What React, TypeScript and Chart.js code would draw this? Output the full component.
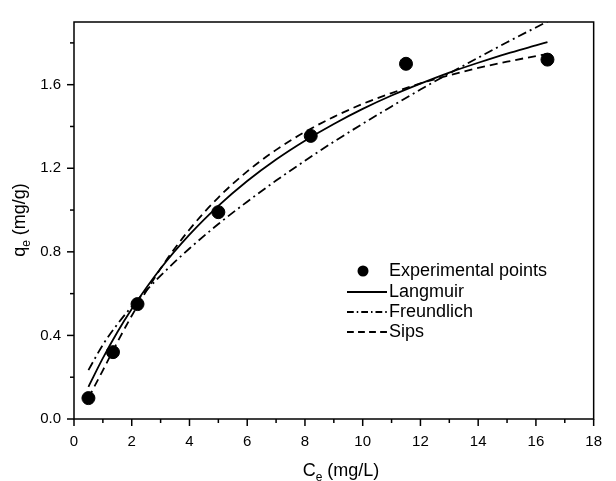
import React, { useEffect, useRef } from "react";
import { Chart, registerables } from "chart.js";

Chart.register(...registerables);

// Experimental data
const CE_EXP = [0.5, 1.35, 2.2, 5.0, 8.2, 11.5, 16.4];
const QE_EXP = [0.1, 0.32, 0.55, 0.99, 1.355, 1.7, 1.72];

// Fitted curves
const CE_FIT = [0.5, 1, 1.5, 2, 3, 4, 5, 6, 7, 8, 9, 10, 11, 12, 13, 14, 15, 16, 16.4];
const Q_LANGMUIR = [0.154, 0.291, 0.415, 0.526, 0.72, 0.882, 1.02, 1.139, 1.242, 1.332, 1.412, 1.484, 1.548, 1.605, 1.658, 1.705, 1.749, 1.788, 1.804];
const Q_FREUNDLICH = [0.234, 0.355, 0.453, 0.538, 0.686, 0.816, 0.933, 1.04, 1.141, 1.236, 1.327, 1.413, 1.496, 1.577, 1.654, 1.729, 1.803, 1.874, 1.902];
const Q_SIPS = [0.101, 0.233, 0.367, 0.494, 0.72, 0.907, 1.06, 1.185, 1.288, 1.374, 1.446, 1.508, 1.56, 1.606, 1.645, 1.68, 1.71, 1.737, 1.747];

const LEGEND_LABELS = ["Experimental points", "Langmuir", "Freundlich", "Sips"];
const X_TITLE = ["C", "e", " (mg/L)"];
const Y_TITLE = ["q", "e", " (mg/g)"];

const FONT = "'Liberation Sans', Arial, sans-serif";
const FREUNDLICH_DASH = [9, 4, 2, 4];
const SIPS_DASH = [8, 5];

const decorPlugin = {
  id: "decor",
  afterDraw(chart: any) {
    const ctx = chart.ctx as CanvasRenderingContext2D;
    const { left, right, top, bottom } = chart.chartArea;
    const xs = chart.scales.x;
    const ys = chart.scales.y;
    ctx.save();
    ctx.strokeStyle = "#000";
    ctx.lineWidth = 1.5;
    ctx.setLineDash([]);
    ctx.strokeRect(left, top, right - left, bottom - top);
    // x ticks
    for (let v = 0; v <= 18; v += 1) {
      const px = xs.getPixelForValue(v);
      const len = v % 2 === 0 ? 7 : 4;
      ctx.beginPath();
      ctx.moveTo(px, bottom);
      ctx.lineTo(px, bottom + len);
      ctx.stroke();
    }
    // y ticks
    for (let i = 0; i <= 9; i++) {
      const v = i * 0.2;
      const py = ys.getPixelForValue(v);
      const len = i % 2 === 0 ? 7 : 4;
      ctx.beginPath();
      ctx.moveTo(left, py);
      ctx.lineTo(left - len, py);
      ctx.stroke();
    }
    ctx.fillStyle = "#000";
    const drawTitle = (parts: string[], x0: number, y0: number) => {
      ctx.textBaseline = "alphabetic";
      ctx.textAlign = "left";
      ctx.font = `18px ${FONT}`;
      const w0 = ctx.measureText(parts[0]).width;
      ctx.font = `12px ${FONT}`;
      const w1 = ctx.measureText(parts[1]).width;
      ctx.font = `18px ${FONT}`;
      const w2 = ctx.measureText(parts[2]).width;
      const total = w0 + w1 + w2;
      let x = x0 - total / 2;
      ctx.fillText(parts[0], x, y0);
      x += w0;
      ctx.font = `12px ${FONT}`;
      ctx.fillText(parts[1], x, y0 + 5);
      x += w1;
      ctx.font = `18px ${FONT}`;
      ctx.fillText(parts[2], x, y0);
    };
    drawTitle(X_TITLE, 341, 476);
    ctx.save();
    ctx.translate(25, 220);
    ctx.rotate(-Math.PI / 2);
    drawTitle(Y_TITLE, 0, 0);
    ctx.restore();

    // legend
    ctx.font = `18px ${FONT}`;
    ctx.textBaseline = "middle";
    ctx.textAlign = "left";
    const rows = [271, 292, 312, 332];
    ctx.beginPath();
    ctx.arc(363, rows[0], 5.5, 0, Math.PI * 2);
    ctx.fill();
    const dashes = [[], FREUNDLICH_DASH.map((d) => d * 0.75), SIPS_DASH.map((d) => d * 0.85)];
    for (let i = 1; i < 4; i++) {
      ctx.lineWidth = 1.8;
      ctx.setLineDash(dashes[i - 1]);
      ctx.beginPath();
      ctx.moveTo(347, rows[i]);
      ctx.lineTo(387, rows[i]);
      ctx.stroke();
    }
    ctx.setLineDash([]);
    LEGEND_LABELS.forEach((t, i) => ctx.fillText(t, 389, rows[i]));
    ctx.restore();
  },
};

export default function App() {
  const ref = useRef<HTMLCanvasElement>(null);
  useEffect(() => {
    if (!ref.current) return;
    const mk = (ys: number[]) => CE_FIT.map((x, i) => ({ x, y: ys[i] }));
    const lineBase = {
      type: "line" as const,
      borderColor: "#000",
      borderWidth: 1.8,
      pointRadius: 0,
      fill: false,
      cubicInterpolationMode: "monotone" as const,
    };
    const chart = new Chart(ref.current, {
      type: "scatter",
      data: {
        datasets: [
          {
            ...lineBase,
            label: LEGEND_LABELS[1],
            data: mk(Q_LANGMUIR),
            order: 2,
          } as any,
          {
            ...lineBase,
            label: LEGEND_LABELS[2],
            data: mk(Q_FREUNDLICH),
            borderDash: FREUNDLICH_DASH,
            order: 3,
          } as any,
          {
            ...lineBase,
            label: LEGEND_LABELS[3],
            data: mk(Q_SIPS),
            borderDash: SIPS_DASH,
            order: 4,
          } as any,
          {
            type: "scatter",
            label: LEGEND_LABELS[0],
            data: CE_EXP.map((x, i) => ({ x, y: QE_EXP[i] })),
            backgroundColor: "#000",
            borderColor: "#000",
            pointRadius: 6.5,
            pointHoverRadius: 6.5,
            order: 1,
          } as any,
        ],
      },
      options: {
        responsive: false,
        animation: false,
        layout: { padding: { top: 13, right: 9, left: 0, bottom: 0 } },
        plugins: { legend: { display: false }, tooltip: { enabled: false } },
        scales: {
          x: {
            type: "linear",
            min: 0,
            max: 18,
            grid: { display: false, drawTicks: false },
            border: { display: false },
            ticks: {
              stepSize: 1,
              autoSkip: false,
              maxRotation: 0,
              includeBounds: false,
              padding: 14,
              color: "#000",
              font: { family: FONT, size: 15 },
              callback: (v: any) => (Number(v) % 2 === 0 ? String(v) : ""),
            },
            afterFit: (s: any) => {
              s.height = 62;
            },
          },
          y: {
            type: "linear",
            min: 0,
            max: 1.9,
            grid: { display: false, drawTicks: false },
            border: { display: false },
            ticks: {
              stepSize: 0.2,
              autoSkip: false,
              includeBounds: false,
              padding: 13,
              color: "#000",
              font: { family: FONT, size: 15 },
              callback: (v: any) => {
                const n = Math.round(Number(v) * 10);
                return n % 4 === 0 ? (n / 10).toFixed(1) : "";
              },
            },
            afterFit: (s: any) => {
              s.width = 74;
            },
          },
        },
      },
      plugins: [decorPlugin],
    });
    return () => chart.destroy();
  }, []);
  return (
    <div style={{ position: "absolute", left: 0, top: 0, width: 616, height: 481, background: "#fff" }}>
      <canvas ref={ref} width={616} height={481} />
    </div>
  );
}
